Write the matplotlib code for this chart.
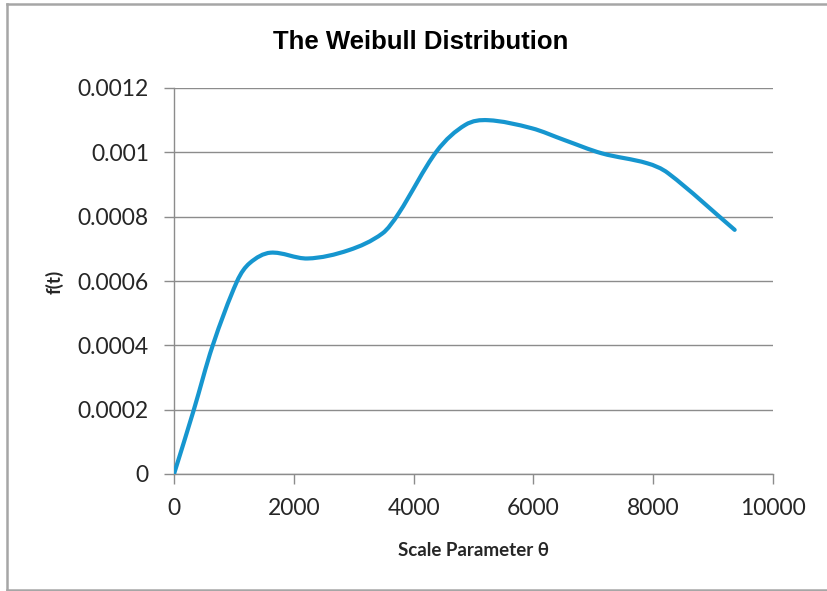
import numpy as np
import matplotlib
matplotlib.use('Agg')
import matplotlib.pyplot as plt
from matplotlib.path import Path
from matplotlib.patches import PathPatch
from matplotlib.lines import Line2D

# Values:
theta = [0, 330, 640, 1050, 1260, 1610, 2230, 2920, 3480, 3750, 4380,
         4860, 5240, 5970, 6520, 7140, 7900, 8250, 9360]
f_t = [0.0, 0.000199, 0.000396, 0.000598, 0.000655, 0.000688, 0.000670,
       0.000696, 0.000748, 0.000810, 0.001002, 0.001085, 0.001100,
       0.001075, 0.001038, 0.000997, 0.000966, 0.000935, 0.000759]
x_ticks = [0, 2000, 4000, 6000, 8000, 10000]
y_ticks = [0, 0.0002, 0.0004, 0.0006, 0.0008, 0.001, 0.0012]
y_tick_labels = ['0', '0.0002', '0.0004', '0.0006', '0.0008', '0.001', '0.0012']

line_color = '#1696cf'
grid_color = '#8c8c8c'
text_color = '#262626'


def smooth_path(xs, ys):
    # Smoothed line as cubic Bezier segments (Hermite tangents in x)
    xs = np.asarray(xs, float)
    ys = np.asarray(ys, float)
    n = len(xs)
    m = np.zeros(n)
    m[0] = (ys[1] - ys[0]) / (xs[1] - xs[0])
    m[-1] = (ys[-1] - ys[-2]) / (xs[-1] - xs[-2])
    for i in range(1, n - 1):
        m[i] = (ys[i + 1] - ys[i - 1]) / (xs[i + 1] - xs[i - 1])
    verts = [(xs[0], ys[0])]
    codes = [Path.MOVETO]
    for i in range(n - 1):
        h = xs[i + 1] - xs[i]
        verts += [(xs[i] + h / 3, ys[i] + m[i] * h / 3),
                  (xs[i + 1] - h / 3, ys[i + 1] - m[i + 1] * h / 3),
                  (xs[i + 1], ys[i + 1])]
        codes += [Path.CURVE4] * 3
    return Path(verts, codes)


fig = plt.figure(figsize=(8.28, 5.91), dpi=100)
ax = fig.add_axes([174 / 828, 117 / 591, 599 / 828, 386 / 591])

patch = PathPatch(smooth_path(theta, f_t), facecolor='none', edgecolor=line_color,
                  linewidth=3.0, capstyle='round', joinstyle='round', zorder=3)
ax.add_patch(patch)

ax.set_xlim(0, 10000)
ax.set_ylim(0, 0.0012)
ax.set_xticks(x_ticks)
ax.set_yticks(y_ticks)
ax.set_yticklabels(y_tick_labels)

for s in ['top', 'right']:
    ax.spines[s].set_visible(False)
for s in ['left', 'bottom']:
    ax.spines[s].set_color(grid_color)
    ax.spines[s].set_linewidth(1.0)

ax.yaxis.grid(True, color=grid_color, linewidth=1.0)
ax.set_axisbelow(True)
ax.tick_params(axis='both', direction='out', length=7, width=1.0, color=grid_color,
               labelsize=16.5, labelcolor=text_color)
ax.tick_params(axis='y', pad=11)
ax.tick_params(axis='x', pad=10)
for lab in ax.get_xticklabels() + ax.get_yticklabels():
    lab.set_family(['Lato', 'DejaVu Sans'])

ax.set_xlabel('Scale Parameter θ', fontsize=13.5, fontweight='bold',
              family=['Lato', 'DejaVu Sans'], color=text_color, labelpad=17)
fig.text(55 / 828, 1 - 282 / 591, 'f(t)', rotation=90, ha='center', va='center',
         fontsize=13.5, fontweight='bold', family=['Lato', 'DejaVu Sans'], color=text_color)

fig.text(421 / 828, 1 - 42 / 591, 'The Weibull Distribution', ha='center', va='center',
         fontsize=18.5, fontweight='bold', family='Liberation Sans', color='black')

# chart border
fig.add_artist(Line2D([7 / 828, 7 / 828], [1 - 590 / 591, 1 - 4 / 591],
                      color='#a6a6a6', linewidth=1.8, transform=fig.transFigure))
fig.add_artist(Line2D([7 / 828, 1.0], [1 - 4 / 591, 1 - 4 / 591],
                      color='#a6a6a6', linewidth=1.8, transform=fig.transFigure))
fig.add_artist(Line2D([7 / 828, 1.0], [1 - 590 / 591, 1 - 590 / 591],
                      color='#a6a6a6', linewidth=1.8, transform=fig.transFigure))

fig.savefig('out.png', dpi=100)
